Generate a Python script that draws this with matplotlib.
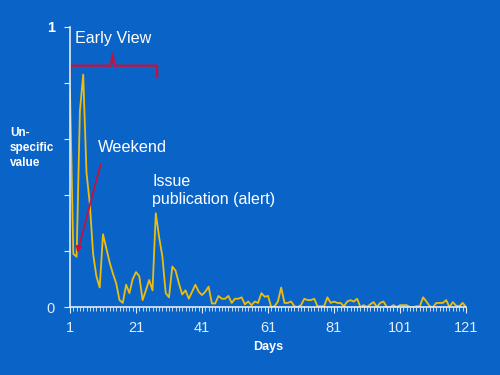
import matplotlib.pyplot as plt
from matplotlib.ticker import MultipleLocator

plt.rcParams['font.family'] = ['Liberation Sans', 'DejaVu Sans']

# daily values, day 1 .. 121
days = list(range(1, 122))
vals = [0.77, 0.19, 0.18, 0.70, 0.83, 0.48, 0.37, 0.19, 0.11, 0.07,
        0.26, 0.21, 0.16, 0.12, 0.085, 0.025, 0.015, 0.08, 0.05, 0.10,
        0.125, 0.11, 0.025, 0.06, 0.097, 0.06, 0.335, 0.25, 0.18, 0.05,
        0.035, 0.145, 0.13, 0.085, 0.045, 0.06, 0.03, 0.055, 0.08, 0.055,
        0.043, 0.055, 0.073, 0.013, 0.013, 0.04, 0.03, 0.03, 0.04, 0.015,
        0.03, 0.03, 0.035, 0.01, 0.02, 0.007, 0.02, 0.015, 0.05, 0.037,
        0.04, 0.0, 0.003, 0.02, 0.07, 0.015, 0.015, 0.02, 0.003, 0.0,
        0.007, 0.03, 0.025, 0.025, 0.03, 0.003, 0.003, 0.003, 0.035, 0.015,
        0.02, 0.015, 0.015, 0.003, 0.02, 0.025, 0.02, 0.03, 0.0, 0.007,
        0.0, 0.01, 0.018, 0.0, 0.015, 0.02, 0.0, 0.0, 0.007, 0.0,
        0.007, 0.007, 0.007, 0.0, 0.0, 0.003, 0.003, 0.035, 0.02, 0.003,
        0.0, 0.015, 0.015, 0.015, 0.025, 0.0, 0.018, 0.005, 0.003, 0.015,
        0.0]
xtick_pos = [1, 21, 41, 61, 81, 101, 121]

bg = '#0A64C8'
fg = 'white'
tickc = '#E4ECF4'
red = '#C8103C'

fig = plt.figure(figsize=(5, 3.75), dpi=100, facecolor=bg)
ax = fig.add_axes([0.14, 0.181, 0.792, 0.747], facecolor=bg)

ax.plot(days, vals[:len(days)], color='#ECBC10', lw=1.3)

ax.set_xlim(1, 121)
ax.set_ylim(0, 1)
for s in ['top', 'right']:
    ax.spines[s].set_visible(False)
for s in ['left', 'bottom']:
    ax.spines[s].set_color(tickc)
    ax.spines[s].set_linewidth(1.2)

ax.set_xticks(xtick_pos)
ax.xaxis.set_minor_locator(MultipleLocator(1))
ax.tick_params(axis='x', which='both', colors=tickc, direction='out')
ax.tick_params(axis='x', which='major', length=4, labelcolor=tickc, labelsize=10.5, pad=6)
ax.tick_params(axis='x', which='minor', length=3)
ax.set_yticks([0, 0.2, 0.4, 0.6, 0.8, 1.0])
ax.set_yticklabels(['0', '', '', '', '', '1'])
ax.tick_params(axis='y', colors=tickc, length=4, labelcolor=tickc, labelsize=10.5, pad=7)
ax.get_yticklabels()[-1].set_fontweight('bold')
ax.get_yticklabels()[-1].set_color(fg)

ax.set_xlabel('Days', color=fg, fontsize=9, fontweight='bold', labelpad=4)
fig.text(0.02, 0.66, 'Un-\nspecific\nvalue', color=fg, fontsize=8.5,
         fontweight='bold', va='top', ha='left', linespacing=1.3)

# annotations
ax.text(2.5, 0.958, 'Early View', color=fg, fontsize=11.6, va='center', ha='left')
ax.plot([1.2, 1.2, 13.4, 13.9, 14.4, 27.4, 27.4],
        [0.821, 0.862, 0.862, 0.905, 0.862, 0.862, 0.821], color=red, lw=1.6)

ax.text(9.5, 0.569, 'Weekend', color=fg, fontsize=11.8, va='center', ha='left')
ax.annotate('', xy=(3.0, 0.185), xytext=(10.5, 0.52),
            arrowprops=dict(arrowstyle='-|>', color=red, lw=1.3, mutation_scale=8))

ax.text(26, 0.417, 'Issue\npublication (alert)', color=fg, fontsize=11.5,
        va='center', ha='left', linespacing=1.2)

fig.savefig('out.png', dpi=100, facecolor=bg)
